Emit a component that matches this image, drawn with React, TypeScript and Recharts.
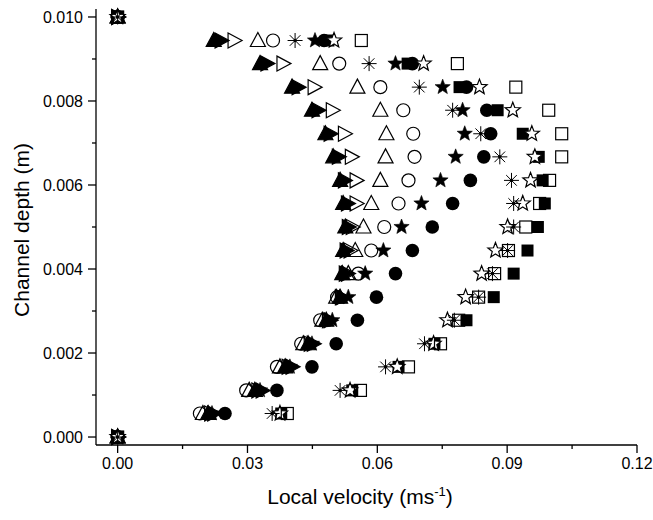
import { ScatterChart, Scatter, XAxis, YAxis, Label } from 'recharts';

// channel depth (m), top wall to bottom wall
const depth = [
  0.01, 0.00944, 0.00889, 0.00833, 0.00778, 0.00722, 0.00667, 0.00611, 0.00556, 0.005,
  0.00444, 0.00389, 0.00333, 0.00278, 0.00222, 0.00167, 0.00111, 0.00056, 0.0,
];

// local velocity (m/s) per run, same order as depth
const velUpFill = [0, 0.0222, 0.0329, 0.0403, 0.0449, 0.048, 0.0498, 0.0514, 0.0521, 0.0526, 0.0521, 0.0519, 0.0514, 0.0482, 0.044, 0.0387, 0.0317, 0.0209, 0];
const velRightFill = [0, 0.0239, 0.0345, 0.0417, 0.0463, 0.0491, 0.051, 0.0524, 0.0531, 0.0533, 0.0528, 0.0526, 0.0519, 0.0491, 0.0452, 0.0403, 0.0334, 0.0222, 0];
const velRightOpen = [0, 0.0269, 0.0382, 0.0454, 0.0496, 0.0524, 0.054, 0.0551, 0.0551, 0.0542, 0.0537, 0.0531, 0.0517, 0.0487, 0.0445, 0.0394, 0.0324, 0.0215, 0];
const velUpOpen = [0, 0.0324, 0.0468, 0.0554, 0.0607, 0.0621, 0.0619, 0.0607, 0.0586, 0.0568, 0.0549, 0.0533, 0.0505, 0.0473, 0.0429, 0.0375, 0.0304, 0.0197, 0];
const velCircleOpen = [0, 0.0359, 0.0512, 0.0607, 0.066, 0.0683, 0.0686, 0.0672, 0.0649, 0.0616, 0.0586, 0.0556, 0.0507, 0.0468, 0.0424, 0.0368, 0.0297, 0.019, 0];
const velStarFill = [0, 0.0456, 0.0642, 0.0751, 0.0797, 0.0802, 0.0781, 0.0746, 0.0702, 0.0656, 0.0614, 0.0572, 0.0533, 0.0496, 0.0449, 0.0398, 0.0329, 0.0218, 0];
const velCircleFill = [0, 0.0477, 0.0681, 0.0806, 0.0853, 0.0862, 0.0846, 0.0815, 0.0774, 0.0727, 0.0681, 0.0642, 0.0598, 0.0554, 0.0505, 0.0449, 0.0368, 0.0248, 0];
const velAsterisk = [0, 0.041, 0.0581, 0.0697, 0.0774, 0.0839, 0.0883, 0.091, 0.0915, 0.0915, 0.0901, 0.0866, 0.0834, 0.0778, 0.0709, 0.0619, 0.0514, 0.0357, 0];
const velSquareFill = [0, 0.0487, 0.067, 0.079, 0.0878, 0.0936, 0.0973, 0.0982, 0.0987, 0.0971, 0.0947, 0.0915, 0.0869, 0.0806, 0.0732, 0.0649, 0.0542, 0.0378, 0];
const velStarOpen = [0, 0.05, 0.0707, 0.0836, 0.0913, 0.0957, 0.0964, 0.0954, 0.0936, 0.0901, 0.0873, 0.0841, 0.0804, 0.0762, 0.073, 0.0646, 0.0537, 0.0375, 0];
const velSquareOpen = [0, 0.0563, 0.0785, 0.092, 0.0996, 0.1026, 0.1026, 0.0998, 0.0975, 0.0943, 0.0903, 0.0871, 0.0834, 0.0788, 0.0746, 0.0672, 0.0561, 0.0392, 0];

const xMajor = [0, 0.03, 0.06, 0.09, 0.12];
const xMinor = [0.015, 0.045, 0.075, 0.105];
const yMajor = [0, 0.002, 0.004, 0.006, 0.008, 0.01];
const yMinor = [0.001, 0.003, 0.005, 0.007, 0.009];

const FONT = '"Liberation Sans", Arial, sans-serif';

type Kind =
  | 'upFill' | 'rightFill' | 'rightOpen' | 'upOpen' | 'circleOpen' | 'starFill'
  | 'circleFill' | 'asterisk' | 'squareFill' | 'starOpen' | 'squareOpen';

const starPts = (cx: number, cy: number, R: number, r: number) => {
  const pts: string[] = [];
  for (let i = 0; i < 10; i++) {
    const a = -Math.PI / 2 + (i * Math.PI) / 5;
    const rad = i % 2 === 0 ? R : r;
    pts.push(`${cx + rad * Math.cos(a)},${cy + rad * Math.sin(a)}`);
  }
  return pts.join(' ');
};

const Marker = ({ cx, cy, kind }: { cx: number; cy: number; kind: Kind }) => {
  const sw = 1.2;
  switch (kind) {
    case 'upFill':
    case 'upOpen': {
      const p = `${cx},${cy - 8} ${cx - 7.5},${cy + 6} ${cx + 7.5},${cy + 6}`;
      return kind === 'upFill'
        ? <polygon points={p} fill="#000" stroke="#000" strokeWidth={sw} />
        : <polygon points={p} fill="none" stroke="#000" strokeWidth={sw} />;
    }
    case 'rightFill':
    case 'rightOpen': {
      const p = `${cx - 6},${cy - 7.5} ${cx - 6},${cy + 7.5} ${cx + 8},${cy}`;
      return kind === 'rightFill'
        ? <polygon points={p} fill="#000" stroke="#000" strokeWidth={sw} />
        : <polygon points={p} fill="none" stroke="#000" strokeWidth={sw} />;
    }
    case 'circleOpen':
      return <circle cx={cx} cy={cy} r={6.5} fill="none" stroke="#000" strokeWidth={sw} />;
    case 'circleFill':
      return <circle cx={cx} cy={cy} r={6.8} fill="#000" />;
    case 'starFill':
      return <polygon points={starPts(cx, cy, 8, 3.4)} fill="#000" stroke="#000" strokeWidth={0.6} />;
    case 'starOpen':
      return <polygon points={starPts(cx, cy, 8, 3.4)} fill="#fff" stroke="#000" strokeWidth={sw} />;
    case 'squareFill':
      return <rect x={cx - 6} y={cy - 6} width={12} height={12} fill="#000" />;
    case 'squareOpen':
      return <rect x={cx - 6} y={cy - 6} width={12} height={12} fill="none" stroke="#000" strokeWidth={sw} />;
    case 'asterisk': {
      const r = 7.5;
      const d = r * Math.SQRT1_2;
      return (
        <g stroke="#000" strokeWidth={1}>
          <line x1={cx} y1={cy - r} x2={cx} y2={cy + r} />
          <line x1={cx - r} y1={cy} x2={cx + r} y2={cy} />
          <line x1={cx - d} y1={cy - d} x2={cx + d} y2={cy + d} />
          <line x1={cx - d} y1={cy + d} x2={cx + d} y2={cy - d} />
          <circle cx={cx} cy={cy} r={1.3} fill="#000" />
        </g>
      );
    }
  }
  return null;
};

const toPoints = (vel: number[]) => vel.map((v, i) => ({ x: v, y: depth[i] }));

// drawn in this order; later runs sit on top
const runs: { name: string; kind: Kind; vel: number[] }[] = [
  { name: 'r1', kind: 'upFill', vel: velUpFill },
  { name: 'r2', kind: 'rightFill', vel: velRightFill },
  { name: 'r3', kind: 'rightOpen', vel: velRightOpen },
  { name: 'r4', kind: 'upOpen', vel: velUpOpen },
  { name: 'r5', kind: 'circleOpen', vel: velCircleOpen },
  { name: 'r6', kind: 'starFill', vel: velStarFill },
  { name: 'r7', kind: 'circleFill', vel: velCircleFill },
  { name: 'r9', kind: 'squareFill', vel: velSquareFill },
  { name: 'r10', kind: 'starOpen', vel: velStarOpen },
  { name: 'r8', kind: 'asterisk', vel: velAsterisk },
  { name: 'r11', kind: 'squareOpen', vel: velSquareOpen },
];

const XTick = ({ x, y, payload }: any) => {
  const major = xMajor.includes(payload.value);
  return (
    <g>
      <line x1={x} x2={x} y1={y} y2={y + (major ? 8 : 4)} stroke="#000" strokeWidth={1.3} />
      {major && (
        <text x={x} y={y + 24} textAnchor="middle" fontSize={16} fontFamily={FONT} fill="#000">
          {payload.value.toFixed(2)}
        </text>
      )}
    </g>
  );
};

const YTick = ({ x, y, payload }: any) => {
  const major = yMajor.includes(payload.value);
  return (
    <g>
      <line x1={x} x2={x - (major ? 8 : 4)} y1={y} y2={y} stroke="#000" strokeWidth={1.3} />
      {major && (
        <text x={x - 13} y={y + 6} textAnchor="end" fontSize={16} fontFamily={FONT} fill="#000">
          {payload.value.toFixed(3)}
        </text>
      )}
    </g>
  );
};

export default function App() {
  return (
    <div style={{ position: 'absolute', left: 0, top: 0, width: 653, height: 520, background: '#fff' }}>
      <ScatterChart width={653} height={520} margin={{ top: 9, right: 16, bottom: 0, left: 0 }}>
        <XAxis
          type="number"
          dataKey="x"
          domain={[-0.005, 0.12]}
          ticks={[...xMajor, ...xMinor].sort((a, b) => a - b)}
          interval={0}
          height={75}
          tickSize={0}
          tickMargin={0}
          tickLine={false}
          tick={<XTick />}
          axisLine={{ stroke: '#000', strokeWidth: 1.3 }}
        >
          <Label
            content={() => (
              <text x={360} y={504} textAnchor="middle" fontSize={21} fontFamily={FONT} fill="#000">
                <tspan>Local velocity (ms</tspan>
                <tspan dy={-8} fontSize={13}>-1</tspan>
                <tspan dy={8}>)</tspan>
              </text>
            )}
          />
        </XAxis>
        <YAxis
          type="number"
          dataKey="y"
          domain={[-0.00019, 0.01019]}
          ticks={[...yMajor, ...yMinor].sort((a, b) => a - b)}
          interval={0}
          width={96}
          tickSize={0}
          tickMargin={0}
          tickLine={false}
          tick={<YTick />}
          axisLine={{ stroke: '#000', strokeWidth: 1.3 }}
        >
          <Label
            content={() => (
              <text
                x={21}
                y={230}
                transform="rotate(-90, 21, 230)"
                textAnchor="middle"
                dominantBaseline="central"
                fontSize={21}
                fontFamily={FONT}
                fill="#000"
              >
                Channel depth (m)
              </text>
            )}
          />
        </YAxis>
        {runs.map((r) => (
          <Scatter
            key={r.name}
            name={r.name}
            data={toPoints(r.vel)}
            isAnimationActive={false}
            shape={(p: any) => <Marker cx={p.cx} cy={p.cy} kind={r.kind} />}
          />
        ))}
      </ScatterChart>
    </div>
  );
}
